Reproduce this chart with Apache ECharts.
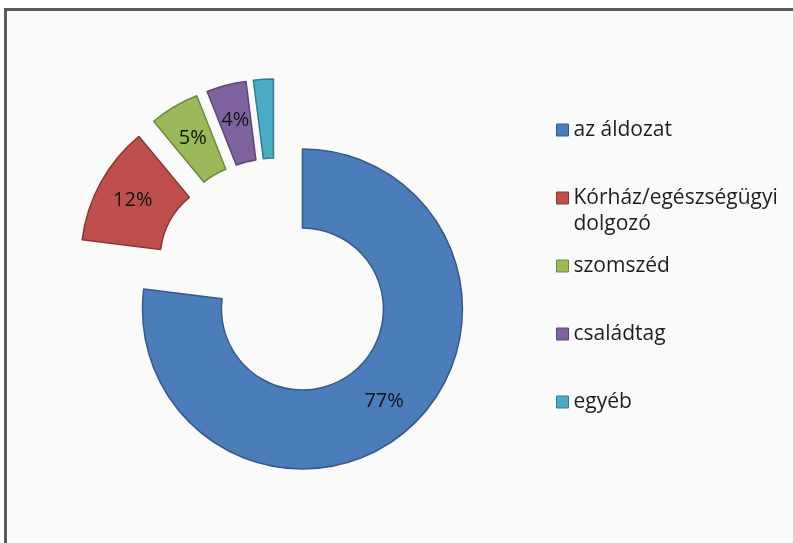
<!DOCTYPE html>
<html>
<head>
<meta charset="utf-8">
<script src="https://cdn.jsdelivr.net/npm/echarts@6/dist/echarts.min.js"></script>
<style>
  html, body { margin: 0; padding: 0; background: #ffffff; width: 793px; height: 543px; overflow: hidden; }
  #frame { position: absolute; left: 4px; top: 8px; width: 820px; height: 560px;
           border-top: 3px solid #5c5c5c; border-left: 3px solid #5c5c5c; background: #fafafa; box-sizing: border-box; }
  #chart { position: absolute; left: 0; top: 0; width: 793px; height: 543px; }
</style>
</head>
<body>
<div id="frame"></div>
<div id="chart"></div>
<script>
const categories = ['az áldozat', 'Kórház/egészségügyi dolgozó', 'szomszéd', 'családtag', 'egyéb'];
const values = [77, 12, 5, 4, 2];
const fillColors = ['#4a7dba', '#be4f4c', '#9aba59', '#7f63a1', '#4aabc5'];
const borderColors = ['#36598a', '#8a3634', '#6f873f', '#5b4675', '#357c90'];

const FONT = '"Open Sans", "DejaVu Sans", sans-serif';

// Legend text: three lines per entry so the marker sits on the first text line
function legendText(name) {
  if (name.length > 20) {
    const i = name.lastIndexOf(' ');
    return ' \n' + name.slice(0, i) + '\n' + name.slice(i + 1);
  }
  return ' \n' + name + '\n ';
}

const chart = echarts.init(document.getElementById('chart'), null, { renderer: 'canvas' });

const option = {
  backgroundColor: 'transparent',
  animation: false,
  legend: {
    orient: 'vertical',
    left: 556,
    top: 91,
    padding: 0,
    itemGap: -10,
    itemWidth: 12,
    itemHeight: 12,
    icon: 'rect',
    selectedMode: true,
    itemStyle: { borderWidth: 1 },
    textStyle: { fontFamily: FONT, fontSize: 21, color: '#1e1e1e', lineHeight: 26 },
    formatter: legendText,
    data: categories
  },
  series: [{
    type: 'pie',
    center: [276, 279],
    radius: [81, 160],
    startAngle: 90,
    clockwise: true,
    selectedMode: 'multiple',
    selectedOffset: 40,
    avoidLabelOverlap: false,
    label: {
      show: true,
      position: 'inside',
      formatter: '{c}%',
      fontFamily: FONT,
      fontSize: 20,
      color: '#111'
    },
    labelLine: { show: false },
    emphasis: { disabled: true },
    data: categories.map((name, i) => ({
      name: name,
      value: values[i],
      selected: true,
      itemStyle: { color: fillColors[i], borderColor: borderColors[i], borderWidth: 1.5 }
    }))
  }]
};

chart.setOption(option);
</script>
</body>
</html>
